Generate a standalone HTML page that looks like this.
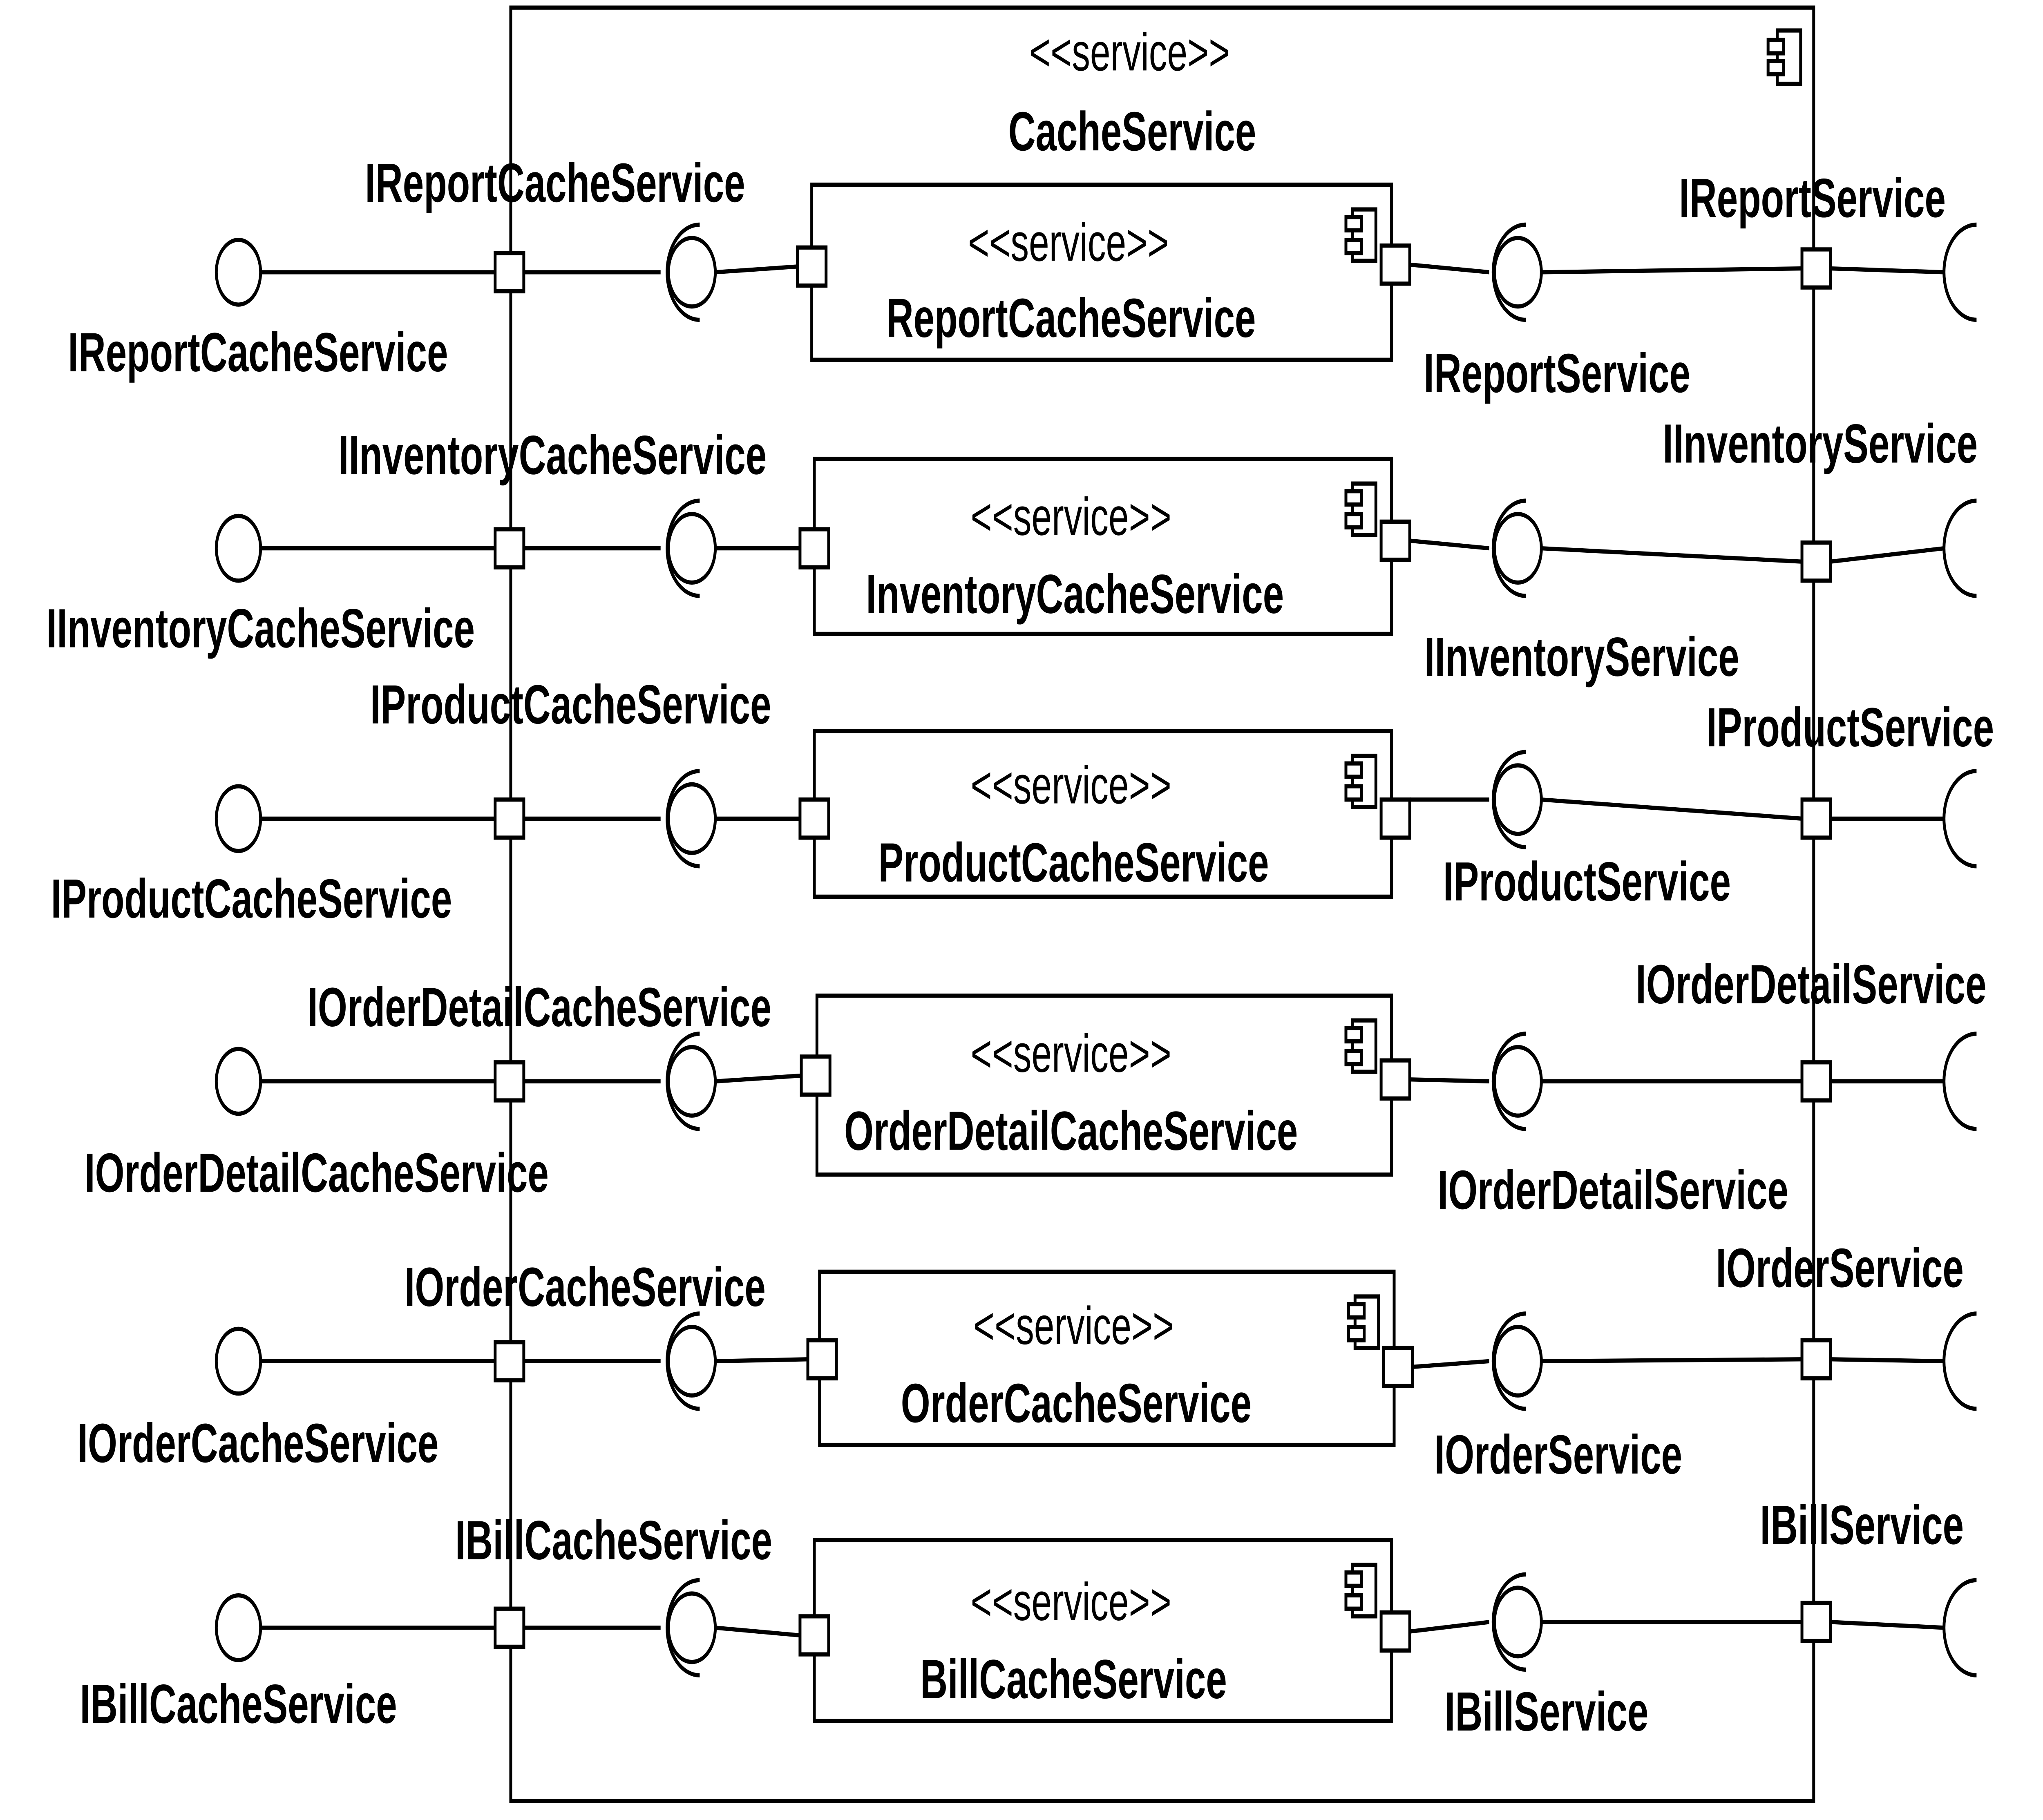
<!DOCTYPE html>
<html><head><meta charset="utf-8"><style>
html,body{margin:0;padding:0;background:#fff;width:100%;height:100%;overflow:hidden;}
svg{display:block;width:100vw;height:100vh;}
text{font-family:"Liberation Sans",sans-serif;fill:#000;stroke:none;}
.b{font-weight:bold;font-size:29px;}
.s{font-size:28px;}
</style></head><body>
<svg viewBox="0 0 1568 956" preserveAspectRatio="none" xmlns="http://www.w3.org/2000/svg">
<g fill="#fff" stroke="#000" stroke-width="2.2">
<rect x="392" y="4" width="1000" height="942"/>
<rect x="1364" y="16" width="18" height="28"/>
<rect x="1357" y="21" width="12" height="7"/>
<rect x="1357" y="32" width="12" height="7"/>

<line x1="200" y1="143" x2="380" y2="143"/><circle cx="183" cy="143" r="17"/>
<line x1="402" y1="143" x2="507" y2="143"/>
<path fill="none" d="M537 118 A25 25 0 0 0 537 168"/><circle cx="531" cy="143" r="18"/>
<line x1="549" y1="143" x2="612" y2="140"/>
<rect x="623" y="97" width="445" height="92"/>
<rect x="380" y="133" width="22" height="20"/>
<rect x="612" y="130" width="22" height="20"/>
<rect x="1038" y="110" width="18" height="27"/><rect x="1033" y="114" width="12" height="7"/><rect x="1033" y="126" width="12" height="7"/>
<rect x="1060" y="129" width="22" height="20"/>
<line x1="1082" y1="139" x2="1143" y2="143"/>
<path fill="none" d="M1171 118 A25 25 0 0 0 1171 168"/><circle cx="1165" cy="143" r="18"/>
<line x1="1183" y1="143" x2="1383" y2="141"/>
<line x1="1405" y1="141" x2="1492" y2="143"/>
<rect x="1383" y="131" width="22" height="20"/>
<path fill="none" d="M1517 118 A25 25 0 0 0 1517 168"/>

<line x1="200" y1="288" x2="380" y2="288"/><circle cx="183" cy="288" r="17"/>
<line x1="402" y1="288" x2="507" y2="288"/>
<path fill="none" d="M537 263 A25 25 0 0 0 537 313"/><circle cx="531" cy="288" r="18"/>
<line x1="549" y1="288" x2="614" y2="288"/>
<rect x="625" y="241" width="443" height="92"/>
<rect x="380" y="278" width="22" height="20"/>
<rect x="614" y="278" width="22" height="20"/>
<rect x="1038" y="254" width="18" height="27"/><rect x="1033" y="258" width="12" height="7"/><rect x="1033" y="270" width="12" height="7"/>
<rect x="1060" y="274" width="22" height="20"/>
<line x1="1082" y1="284" x2="1143" y2="288"/>
<path fill="none" d="M1171 263 A25 25 0 0 0 1171 313"/><circle cx="1165" cy="288" r="18"/>
<line x1="1183" y1="288" x2="1383" y2="295"/>
<line x1="1405" y1="295" x2="1492" y2="288"/>
<rect x="1383" y="285" width="22" height="20"/>
<path fill="none" d="M1517 263 A25 25 0 0 0 1517 313"/>

<line x1="200" y1="430" x2="380" y2="430"/><circle cx="183" cy="430" r="17"/>
<line x1="402" y1="430" x2="507" y2="430"/>
<path fill="none" d="M537 405 A25 25 0 0 0 537 455"/><circle cx="531" cy="430" r="18"/>
<line x1="549" y1="430" x2="614" y2="430"/>
<rect x="625" y="384" width="443" height="87"/>
<rect x="380" y="420" width="22" height="20"/>
<rect x="614" y="420" width="22" height="20"/>
<rect x="1038" y="397" width="18" height="27"/><rect x="1033" y="401" width="12" height="7"/><rect x="1033" y="413" width="12" height="7"/>
<rect x="1060" y="420" width="22" height="20"/>
<line x1="1082" y1="420" x2="1143" y2="420"/>
<path fill="none" d="M1171 395 A25 25 0 0 0 1171 445"/><circle cx="1165" cy="420" r="18"/>
<line x1="1183" y1="420" x2="1383" y2="430"/>
<line x1="1405" y1="430" x2="1492" y2="430"/>
<rect x="1383" y="420" width="22" height="20"/>
<path fill="none" d="M1517 405 A25 25 0 0 0 1517 455"/>

<line x1="200" y1="568" x2="380" y2="568"/><circle cx="183" cy="568" r="17"/>
<line x1="402" y1="568" x2="507" y2="568"/>
<path fill="none" d="M537 543 A25 25 0 0 0 537 593"/><circle cx="531" cy="568" r="18"/>
<line x1="549" y1="568" x2="615" y2="565"/>
<rect x="627" y="523" width="441" height="94"/>
<rect x="380" y="558" width="22" height="20"/>
<rect x="615" y="555" width="22" height="20"/>
<rect x="1038" y="536" width="18" height="27"/><rect x="1033" y="540" width="12" height="7"/><rect x="1033" y="552" width="12" height="7"/>
<rect x="1060" y="557" width="22" height="20"/>
<line x1="1082" y1="567" x2="1143" y2="568"/>
<path fill="none" d="M1171 543 A25 25 0 0 0 1171 593"/><circle cx="1165" cy="568" r="18"/>
<line x1="1183" y1="568" x2="1383" y2="568"/>
<line x1="1405" y1="568" x2="1492" y2="568"/>
<rect x="1383" y="558" width="22" height="20"/>
<path fill="none" d="M1517 543 A25 25 0 0 0 1517 593"/>

<line x1="200" y1="715" x2="380" y2="715"/><circle cx="183" cy="715" r="17"/>
<line x1="402" y1="715" x2="507" y2="715"/>
<path fill="none" d="M537 690 A25 25 0 0 0 537 740"/><circle cx="531" cy="715" r="18"/>
<line x1="549" y1="715" x2="620" y2="714"/>
<rect x="629" y="668" width="441" height="91"/>
<rect x="380" y="705" width="22" height="20"/>
<rect x="620" y="704" width="22" height="20"/>
<rect x="1040" y="681" width="18" height="27"/><rect x="1035" y="685" width="12" height="7"/><rect x="1035" y="697" width="12" height="7"/>
<rect x="1062" y="708" width="22" height="20"/>
<line x1="1084" y1="718" x2="1143" y2="715"/>
<path fill="none" d="M1171 690 A25 25 0 0 0 1171 740"/><circle cx="1165" cy="715" r="18"/>
<line x1="1183" y1="715" x2="1383" y2="714"/>
<line x1="1405" y1="714" x2="1492" y2="715"/>
<rect x="1383" y="704" width="22" height="20"/>
<path fill="none" d="M1517 690 A25 25 0 0 0 1517 740"/>

<line x1="200" y1="855" x2="380" y2="855"/><circle cx="183" cy="855" r="17"/>
<line x1="402" y1="855" x2="507" y2="855"/>
<path fill="none" d="M537 830 A25 25 0 0 0 537 880"/><circle cx="531" cy="855" r="18"/>
<line x1="549" y1="855" x2="614" y2="859"/>
<rect x="625" y="809" width="443" height="95"/>
<rect x="380" y="845" width="22" height="20"/>
<rect x="614" y="849" width="22" height="20"/>
<rect x="1038" y="822" width="18" height="27"/><rect x="1033" y="826" width="12" height="7"/><rect x="1033" y="838" width="12" height="7"/>
<rect x="1060" y="847" width="22" height="20"/>
<line x1="1082" y1="857" x2="1143" y2="852"/>
<path fill="none" d="M1171 827 A25 25 0 0 0 1171 877"/><circle cx="1165" cy="852" r="18"/>
<line x1="1183" y1="852" x2="1383" y2="852"/>
<line x1="1405" y1="852" x2="1492" y2="855"/>
<rect x="1383" y="842" width="22" height="20"/>
<path fill="none" d="M1517 830 A25 25 0 0 0 1517 880"/>
</g>

<g text-anchor="middle">
<text class="s" x="867" y="37">&lt;&lt;service&gt;&gt;</text>
<text class="b" x="869" y="79">CacheService</text>

<text class="s" x="820" y="137">&lt;&lt;service&gt;&gt;</text>
<text class="b" x="822" y="177">ReportCacheService</text>
<text class="b" x="426" y="106">IReportCacheService</text>
<text class="b" x="198" y="195">IReportCacheService</text>
<text class="b" x="1391" y="114">IReportService</text>
<text class="b" x="1195" y="206">IReportService</text>

<text class="s" x="822" y="281">&lt;&lt;service&gt;&gt;</text>
<text class="b" x="825" y="322">InventoryCacheService</text>
<text class="b" x="424" y="249">IInventoryCacheService</text>
<text class="b" x="200" y="340">IInventoryCacheService</text>
<text class="b" x="1397" y="243">IInventoryService</text>
<text class="b" x="1214" y="355">IInventoryService</text>

<text class="s" x="822" y="422">&lt;&lt;service&gt;&gt;</text>
<text class="b" x="824" y="463">ProductCacheService</text>
<text class="b" x="438" y="380">IProductCacheService</text>
<text class="b" x="193" y="482">IProductCacheService</text>
<text class="b" x="1420" y="392">IProductService</text>
<text class="b" x="1218" y="473">IProductService</text>

<text class="s" x="822" y="563">&lt;&lt;service&gt;&gt;</text>
<text class="b" x="822" y="604">OrderDetailCacheService</text>
<text class="b" x="414" y="539">IOrderDetailCacheService</text>
<text class="b" x="243" y="626">IOrderDetailCacheService</text>
<text class="b" x="1390" y="527">IOrderDetailService</text>
<text class="b" x="1238" y="635">IOrderDetailService</text>

<text class="s" x="824" y="706">&lt;&lt;service&gt;&gt;</text>
<text class="b" x="826" y="747">OrderCacheService</text>
<text class="b" x="449" y="686">IOrderCacheService</text>
<text class="b" x="198" y="768">IOrderCacheService</text>
<text class="b" x="1412" y="676">IOrderService</text>
<text class="b" x="1196" y="774">IOrderService</text>

<text class="s" x="822" y="851">&lt;&lt;service&gt;&gt;</text>
<text class="b" x="824" y="892">BillCacheService</text>
<text class="b" x="471" y="819">IBillCacheService</text>
<text class="b" x="183" y="905">IBillCacheService</text>
<text class="b" x="1429" y="811">IBillService</text>
<text class="b" x="1187" y="909">IBillService</text>
</g>
</svg>
</body></html>
